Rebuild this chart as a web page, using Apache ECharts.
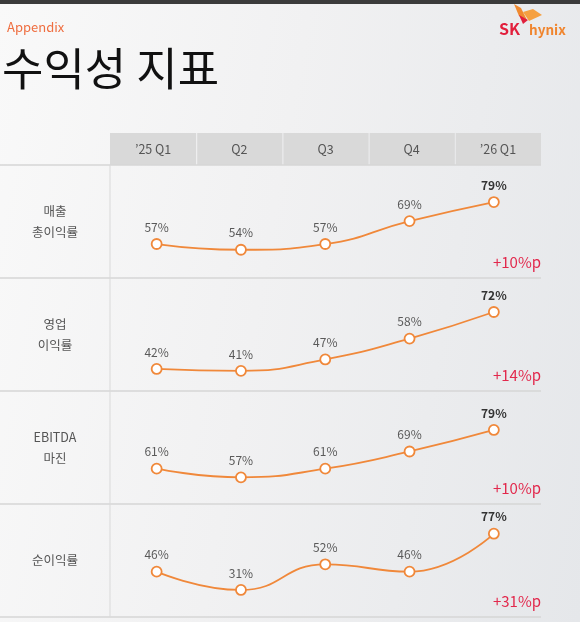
<!DOCTYPE html>
<html><head><meta charset="utf-8">
<script src="https://cdn.jsdelivr.net/npm/echarts@6/dist/echarts.min.js"></script>
<style>
html,body{margin:0;padding:0;width:580px;height:622px;overflow:hidden;}
body{background:linear-gradient(100deg,#f9f9f9 0%,#f1f1f2 45%,#e5e7ea 100%);}
#c{width:580px;height:622px;}
</style></head><body><div id="c"></div>
<script>
const quarters = ['\u201925 Q1', 'Q2', 'Q3', 'Q4', '\u201926 Q1'];
const metrics = ['매출\n총이익률', '영업\n이익률', 'EBITDA\n마진', '순이익률'];
const grossMargin = [57, 54, 57, 69, 79];
const operatingMargin = [42, 41, 47, 58, 72];
const ebitdaMargin = [61, 57, 61, 69, 79];
const netMargin = [46, 31, 52, 46, 77];
const changes = ['+10%p', '+14%p', '+10%p', '+31%p'];

const seriesData = [grossMargin, operatingMargin, ebitdaMargin, netMargin];
const yRanges = [[39.2, 98.4], [30.4, 89.9], [44.6, 97.1], [8.9, 101.3]];

const FONT = '"Noto Sans CJK KR", "Noto Sans", sans-serif';
const ROW_TOP = 165, ROW_H = 113, LEFT_COL = 110, TABLE_R = 541;
const ORANGE = '#f0883a';

const chart = echarts.init(document.getElementById('c'), null, {renderer: 'canvas'});

const grids = [], xAxes = [], yAxes = [], series = [];
seriesData.forEach((vals, i) => {
  grids.push({left: 114.5, width: 421.5, top: ROW_TOP + ROW_H * i, height: ROW_H});
  xAxes.push({type: 'category', gridIndex: i, data: quarters, boundaryGap: true, show: false});
  yAxes.push({type: 'value', gridIndex: i, min: yRanges[i][0], max: yRanges[i][1], show: false});
  series.push({
    type: 'line', xAxisIndex: i, yAxisIndex: i, smooth: true,
    symbol: 'circle', symbolSize: 10,
    lineStyle: {color: ORANGE, width: 1.8},
    itemStyle: {color: '#ffffff', borderColor: ORANGE, borderWidth: 1.8},
    label: {show: true, position: 'top', distance: 5, formatter: '{c}%',
      fontFamily: FONT, fontSize: 12, color: '#5a5a5a'},
    emphasis: {disabled: true},
    data: vals.map((v, j) => j === vals.length - 1
      ? {value: v, label: {fontWeight: 'bold', color: '#333333'}} : v)
  });
});

const g = [];
g.push({type: 'rect', shape: {x: 0, y: 0, width: 580, height: 4}, style: {fill: '#3b3b3b'}});
g.push({type: 'text', x: 7, y: 27, style: {text: 'Appendix', font: '13px ' + FONT, fill: '#ef6e40', textVerticalAlign: 'middle'}});
g.push({type: 'text', x: 2, y: 69, style: {text: '수익성 지표', font: '45px ' + FONT, fill: '#111111', textVerticalAlign: 'middle'}});
// logo
g.push({type: 'polygon', shape: {points: [[514, 4], [521, 8], [527, 20], [519, 16]]}, style: {fill: '#f08a30'}});
g.push({type: 'polygon', shape: {points: [[523, 12], [533, 9], [542, 15], [529, 21]]}, style: {fill: '#f5a040'}});
g.push({type: 'polygon', shape: {points: [[519, 15], [528, 20], [523, 24]]}, style: {fill: '#e0203c'}});
g.push({type: 'text', x: 499, y: 29, style: {text: 'SK', font: 'bold 16px ' + FONT, fill: '#e21f3c', textVerticalAlign: 'middle'}});
g.push({type: 'text', x: 529, y: 30, style: {text: 'hynix', font: 'bold 13.5px ' + FONT, fill: '#f0852e', textVerticalAlign: 'middle'}});

const cellW = (TABLE_R - LEFT_COL) / quarters.length;
quarters.forEach((q, k) => {
  const x0 = LEFT_COL + cellW * k;
  g.push({type: 'rect', shape: {x: x0 + (k ? 1 : 0), y: 133, width: cellW - (k ? 1 : 0), height: 32}, style: {fill: '#d9d9d9'}});
  g.push({type: 'text', x: x0 + cellW / 2, y: 149.5, style: {text: q, font: '12.5px ' + FONT, fill: '#555555', textAlign: 'center', textVerticalAlign: 'middle'}});
});

for (let r = 0; r <= metrics.length; r++) {
  const y = ROW_TOP + ROW_H * r;
  g.push({type: 'line', shape: {x1: 0, y1: y, x2: TABLE_R, y2: y}, style: {stroke: '#d6d6d6', lineWidth: 1.5}});
}
g.push({type: 'line', shape: {x1: LEFT_COL, y1: ROW_TOP, x2: LEFT_COL, y2: ROW_TOP + ROW_H * metrics.length}, style: {stroke: '#d9d9d9', lineWidth: 1}});

metrics.forEach((m, i) => {
  const yc = ROW_TOP + ROW_H * i + ROW_H / 2;
  g.push({type: 'text', x: 55, y: yc, style: {text: m, font: '12.5px ' + FONT, fill: '#555555', textAlign: 'center', textVerticalAlign: 'middle', lineHeight: 21}});
  g.push({type: 'text', x: TABLE_R, y: ROW_TOP + ROW_H * (i + 1) - 16, style: {text: changes[i], font: '15px ' + FONT, fill: '#e2284c', textAlign: 'right', textVerticalAlign: 'middle'}});
});

chart.setOption({
  animation: false,
  backgroundColor: 'transparent',
  textStyle: {fontFamily: FONT},
  grid: grids, xAxis: xAxes, yAxis: yAxes, series: series,
  graphic: {elements: g}
});
</script></body></html>
